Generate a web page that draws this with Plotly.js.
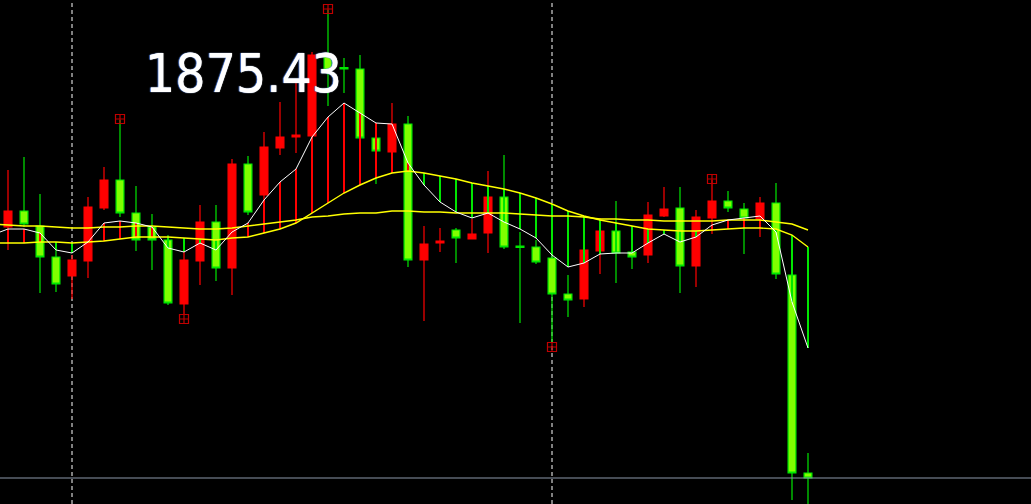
<!DOCTYPE html>
<html>
<head>
<meta charset="utf-8">
<script src="https://cdn.plot.ly/plotly-3.0.1.min.js"></script>
<style>
  html, body { margin: 0; padding: 0; background: #000; }
  #chart { width: 1031px; height: 504px; }
</style>
</head>
<body>
<div id="chart"></div>
<script>
// Candle data (first bar lies just off the left edge)
const openP = [1830.4, 1832.0, 1835.2, 1832.2, 1826.0, 1822.2, 1825.2, 1835.8, 1841.4, 1834.8, 1832.0, 1829.4, 1816.6, 1825.2, 1833.0, 1823.8, 1844.6, 1838.4, 1847.8, 1850.0, 1850.2, 1866.2, 1863.9, 1863.6, 1849.8, 1847.0, 1852.6, 1825.4, 1828.8, 1831.4, 1829.6, 1830.8, 1838.0, 1828.2, 1828.0, 1825.8, 1818.6, 1817.6, 1827.2, 1831.2, 1827.0, 1826.4, 1834.2, 1835.8, 1824.2, 1833.8, 1837.2, 1835.6, 1833.6, 1836.8, 1822.4, 1782.8];
const highP = [1833.4, 1843.4, 1846.0, 1838.6, 1829.0, 1826.4, 1838.0, 1844.0, 1853.4, 1840.2, 1834.6, 1830.4, 1829.8, 1836.4, 1836.4, 1845.6, 1846.2, 1851.0, 1857.0, 1860.8, 1867.0, 1875.43, 1865.8, 1866.4, 1851.8, 1856.8, 1854.2, 1832.2, 1831.8, 1831.8, 1833.6, 1843.2, 1846.4, 1831.0, 1829.4, 1827.4, 1822.4, 1828.4, 1833.8, 1837.2, 1828.4, 1837.0, 1840.0, 1840.0, 1835.4, 1841.4, 1839.2, 1836.8, 1838.0, 1840.8, 1823.4, 1786.8];
const lowP = [1829.4, 1827.4, 1832.0, 1818.8, 1819.0, 1817.6, 1821.8, 1835.4, 1834.0, 1827.2, 1823.4, 1816.4, 1814.4, 1820.4, 1821.2, 1818.4, 1834.4, 1837.4, 1846.4, 1846.8, 1849.4, 1856.2, 1858.8, 1849.4, 1840.6, 1842.8, 1824.0, 1813.2, 1827.0, 1824.8, 1829.6, 1826.8, 1827.6, 1812.8, 1824.6, 1808.8, 1814.0, 1816.0, 1822.6, 1820.8, 1823.6, 1824.8, 1834.0, 1818.8, 1820.0, 1830.6, 1835.0, 1826.6, 1830.0, 1821.6, 1777.4, 1776.2];
const closeP = [1832.4, 1835.2, 1832.6, 1826.0, 1820.6, 1825.4, 1836.0, 1841.4, 1834.8, 1829.4, 1829.4, 1816.8, 1825.4, 1833.0, 1823.8, 1844.6, 1835.0, 1848.0, 1850.0, 1850.4, 1866.4, 1863.4, 1863.6, 1849.8, 1847.2, 1852.6, 1825.4, 1828.6, 1829.2, 1829.8, 1830.6, 1838.0, 1828.0, 1827.9, 1825.0, 1818.6, 1817.4, 1827.4, 1831.2, 1826.8, 1826.0, 1834.4, 1835.6, 1824.2, 1834.0, 1837.2, 1835.8, 1833.8, 1836.8, 1822.6, 1782.8, 1781.8];

// Moving averages
const maFast = [1830.4, 1831.6, 1831.6, 1830.8, 1827.4, 1826.8, 1829.0, 1832.8, 1833.2, 1832.8, 1832.0, 1827.8, 1827.0, 1828.8, 1827.4, 1831.0, 1832.8, 1837.4, 1841.0, 1843.6, 1850.0, 1854.0, 1856.8, 1854.8, 1852.8, 1852.6, 1844.8, 1840.4, 1837.0, 1835.0, 1833.8, 1834.8, 1833.0, 1831.6, 1829.8, 1826.4, 1824.0, 1824.8, 1826.6, 1826.8, 1826.8, 1828.8, 1830.6, 1829.0, 1830.0, 1832.4, 1833.4, 1833.8, 1834.2, 1831.0, 1817.0, 1807.8];
const maMid = [1828.8, 1828.8, 1828.8, 1829.0, 1829.0, 1828.8, 1829.0, 1829.2, 1829.6, 1830.0, 1830.0, 1830.0, 1829.8, 1829.6, 1829.4, 1829.8, 1830.0, 1830.8, 1831.6, 1832.8, 1834.8, 1836.8, 1838.8, 1840.4, 1841.8, 1842.8, 1843.2, 1842.8, 1842.2, 1841.6, 1840.8, 1840.2, 1839.6, 1838.8, 1837.8, 1836.6, 1835.2, 1834.2, 1833.4, 1832.8, 1832.2, 1831.6, 1831.4, 1831.2, 1831.2, 1831.4, 1831.6, 1831.8, 1831.8, 1831.6, 1830.4, 1828.0];
const maSlow = [1832.6, 1832.4, 1832.2, 1832.2, 1832.0, 1831.8, 1831.8, 1832.0, 1832.0, 1832.2, 1832.2, 1832.0, 1831.8, 1831.6, 1831.6, 1831.8, 1832.2, 1832.6, 1833.0, 1833.4, 1834.0, 1834.2, 1834.6, 1834.8, 1834.8, 1835.2, 1835.2, 1835.0, 1835.0, 1834.8, 1834.8, 1834.8, 1834.8, 1834.6, 1834.4, 1834.2, 1834.2, 1834.0, 1833.6, 1833.6, 1833.4, 1833.4, 1833.2, 1833.2, 1833.2, 1833.2, 1833.4, 1833.4, 1833.4, 1833.0, 1832.6, 1831.4];

// High / low markers
const markIdx = [21, 8, 12, 35, 45];
const markPrice = [1875.6, 1853.6, 1813.6, 1808.0, 1841.6];

// Period separators (bar indices)
const sepIdx = [5, 35];

const priceLabel = "1875.43";

const idx = openP.map((_, i) => i);

// Vertical difference bars between fast MA and mid MA
const upX = [], upY = [], dnX = [], dnY = [];
idx.forEach(i => {
  const a = maFast[i], b = maMid[i];
  if (a >= b) { upX.push(i, i, null); upY.push(a, b, null); }
  else { dnX.push(i, i, null); dnY.push(a, b, null); }
});

const traces = [
  {
    type: 'candlestick', x: idx, open: openP, high: highP, low: lowP, close: closeP,
    increasing: { line: { color: '#ff0000', width: 1.2 }, fillcolor: '#ff0000' },
    decreasing: { line: { color: '#00e600', width: 1.2 }, fillcolor: '#80ff00' },
    whiskerwidth: 0, hoverinfo: 'skip', showlegend: false
  },
  { type: 'scatter', mode: 'lines', x: upX, y: upY, line: { color: '#ff0000', width: 2 }, hoverinfo: 'skip', showlegend: false, connectgaps: false },
  { type: 'scatter', mode: 'lines', x: dnX, y: dnY, line: { color: '#00e600', width: 2 }, hoverinfo: 'skip', showlegend: false, connectgaps: false },
  { type: 'scatter', mode: 'lines', x: idx, y: maSlow, line: { color: '#ffff00', width: 1.4 }, hoverinfo: 'skip', showlegend: false },
  { type: 'scatter', mode: 'lines', x: idx, y: maMid, line: { color: '#ffff00', width: 1.4 }, hoverinfo: 'skip', showlegend: false },
  { type: 'scatter', mode: 'lines', x: idx, y: maFast, line: { color: '#ffffff', width: 1 }, hoverinfo: 'skip', showlegend: false },
  { type: 'scatter', mode: 'markers', x: markIdx, y: markPrice,
    marker: { symbol: 'square-cross-open', size: 9, color: '#c00000', line: { width: 1.2, color: '#c00000' } },
    hoverinfo: 'skip', showlegend: false }
];

const shapes = sepIdx.map(s => ({
  type: 'line', xref: 'x', yref: 'paper', x0: s, x1: s, y0: 0, y1: 1,
  line: { color: '#ffffff', width: 1, dash: '4px,3px' }, layer: 'below'
}));
shapes.push({
  type: 'line', xref: 'paper', yref: 'y', x0: 0, x1: 1,
  y0: closeP[closeP.length - 1], y1: closeP[closeP.length - 1],
  line: { color: '#8c98aa', width: 1 }, layer: 'above'
});

const layout = {
  width: 1031, height: 504,
  margin: { l: 0, r: 0, t: 0, b: 0, pad: 0 },
  paper_bgcolor: '#000000', plot_bgcolor: '#000000',
  showlegend: false,
  xaxis: { range: [0.5, 64.9375], visible: false, showgrid: false, zeroline: false, rangeslider: { visible: false }, fixedrange: true },
  yaxis: { range: [1776.6, 1877.4], visible: false, showgrid: false, zeroline: false, fixedrange: true },
  shapes: shapes,
  annotations: [{
    text: priceLabel, xref: 'paper', yref: 'paper',
    x: 143 / 1031, y: 1 - 73 / 504, xanchor: 'left', yanchor: 'middle',
    showarrow: false,
    font: { family: "'DejaVu Sans Condensed', 'Liberation Sans', sans-serif", size: 53, color: '#ffffff',
            shadow: '0 0 1px #ffffff, -1px 0 1px #3f6fd0' }
  }]
};

Plotly.newPlot('chart', traces, layout, { staticPlot: true, displayModeBar: false });
</script>
</body>
</html>
